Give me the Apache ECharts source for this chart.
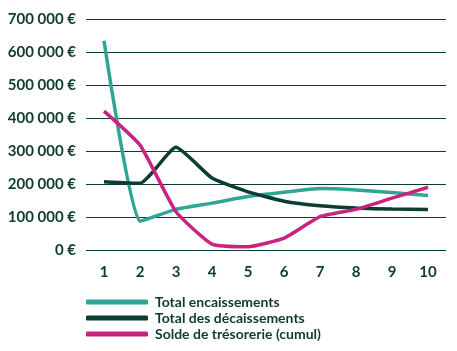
<!DOCTYPE html>
<html>
<head>
<meta charset="utf-8">
<script src="https://cdn.jsdelivr.net/npm/echarts@6/dist/echarts.min.js"></script>
<style>
  html, body { margin: 0; padding: 0; background: #fff; }
  #chart { width: 457px; height: 351px; }
</style>
</head>
<body>
<div id="chart"></div>
<script>
  // donnees
  var mois = ['1', '2', '3', '4', '5', '6', '7', '8', '9', '10'];
  var encaissements = [634000, 87000, 123000, 142000, 162000, 175000, 186000, 182000, 174000, 165000];
  var decaissements = [207000, 202000, 311000, 218000, 176000, 148000, 134000, 127000, 124000, 123000];
  var solde = [421000, 318000, 116000, 18000, 10000, 36000, 101000, 123000, 157000, 190000];

  var textColor = '#0d3b30';
  var chart = echarts.init(document.getElementById('chart'));

  function ligne(nom, valeurs, couleur) {
    return {
      name: nom,
      type: 'line',
      data: valeurs,
      smooth: 0.15,
      symbol: 'none',
      itemStyle: { color: couleur },
      lineStyle: { color: couleur, width: 3.5 }
    };
  }

  var option = {
    animation: false,
    grid: { left: 86, right: 11, top: 19, bottom: 101 },
    legend: {
      orient: 'vertical',
      left: 81,
      top: 290,
      itemWidth: 62,
      itemHeight: 5,
      itemGap: 2,
      icon: 'roundRect',
      textStyle: {
        color: textColor,
        fontFamily: 'Lato',
        fontWeight: 'bold',
        fontSize: 14,
        padding: [0, 0, 0, 2]
      },
      data: ['Total encaissements', 'Total des décaissements', 'Solde de trésorerie (cumul)']
    },
    xAxis: {
      type: 'category',
      data: mois,
      boundaryGap: true,
      axisLine: { show: false },
      axisTick: { show: false },
      axisLabel: {
        color: textColor,
        fontFamily: 'Lato',
        fontWeight: 'bold',
        fontSize: 15,
        margin: 15
      }
    },
    yAxis: {
      type: 'value',
      min: 0,
      max: 700000,
      interval: 100000,
      axisLabel: {
        color: textColor,
        fontFamily: 'Lato',
        fontWeight: 'bold',
        fontSize: 15,
        margin: 10,
        formatter: function (v) {
          return v === 0 ? '0 €' : (v / 1000) + ' 000 €';
        }
      },
      splitLine: { lineStyle: { color: textColor, width: 1 } }
    },
    series: [
      ligne('Total encaissements', encaissements, '#2fa595'),
      ligne('Total des décaissements', decaissements, '#0b3d33'),
      ligne('Solde de trésorerie (cumul)', solde, '#c8247f')
    ]
  };

  chart.setOption(option);
</script>
</body>
</html>
